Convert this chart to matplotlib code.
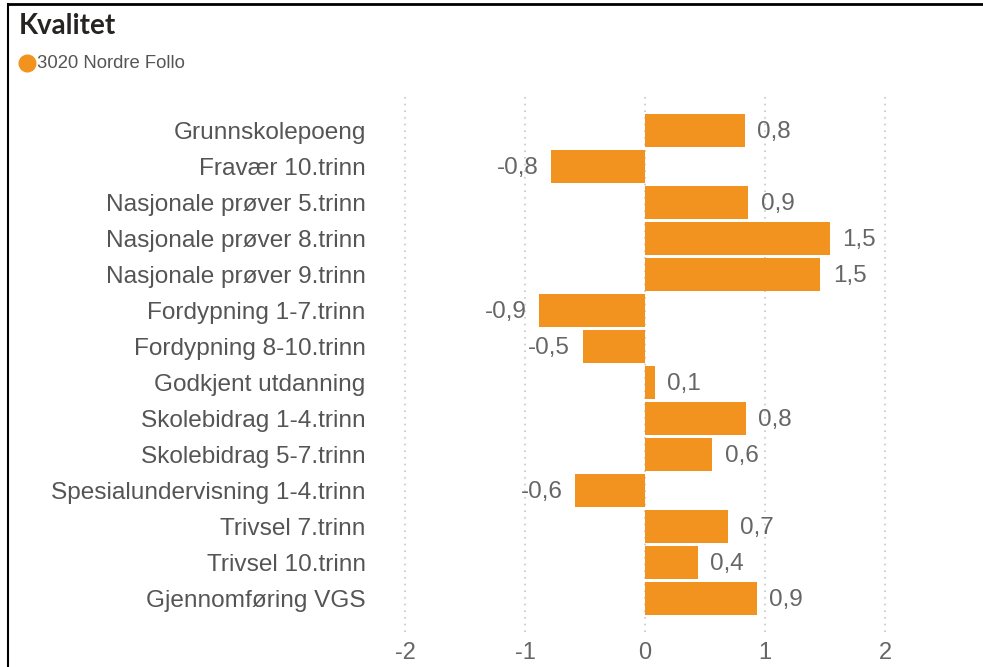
import matplotlib
matplotlib.use("Agg")
import matplotlib.pyplot as plt
from matplotlib.lines import Line2D

categories = ["Grunnskolepoeng", "Fravær 10.trinn", "Nasjonale prøver 5.trinn",
              "Nasjonale prøver 8.trinn", "Nasjonale prøver 9.trinn",
              "Fordypning 1-7.trinn", "Fordypning 8-10.trinn", "Godkjent utdanning",
              "Skolebidrag 1-4.trinn", "Skolebidrag 5-7.trinn",
              "Spesialundervisning 1-4.trinn", "Trivsel 7.trinn", "Trivsel 10.trinn",
              "Gjennomføring VGS"]
values = [0.83, -0.78, 0.86, 1.54, 1.46, -0.88, -0.52, 0.08, 0.84, 0.56,
          -0.58, 0.69, 0.44, 0.93]
xticks = [-2, -1, 0, 1, 2]
series_name = "3020 Nordre Follo"
title = "Kvalitet"

ORANGE = "#F2931F"
plt.rcParams['font.family'] = ['Liberation Sans', 'DejaVu Sans']

W, H = 983, 667
fig = plt.figure(figsize=(W / 100, H / 100), dpi=100)
ax = fig.add_axes([399 / W, 35 / H, 492 / W, 535 / H])

ypos = list(range(len(categories)))
ax.barh(ypos, values, height=0.92, color=ORANGE, zorder=3)

for y, v in zip(ypos, values):
    lab = f"{v:.1f}".replace(".", ",")
    if v >= 0:
        ax.annotate(lab, (v, y), xytext=(9, -1.5), textcoords="offset points",
                    ha="left", va="center", fontsize=17.5, color="#666666")
    else:
        ax.annotate(lab, (v, y), xytext=(-9, -1.5), textcoords="offset points",
                    ha="right", va="center", fontsize=17.5, color="#666666")

ax.set_xlim(-2.05, 2.05)
ax.set_ylim(len(categories) - 0.06, -0.92)
ax.set_xticks(xticks)
ax.set_xticklabels([str(t) for t in xticks])
ax.set_yticks(ypos)
ax.set_yticklabels(categories)
ax.tick_params(axis="y", length=0, pad=24, labelsize=17.6, labelcolor="#555555")
ax.tick_params(axis="x", length=0, pad=7, labelsize=17, labelcolor="#666666")
ax.grid(axis="x", color="#C8C8C8", linestyle=(0, (1, 3)), linewidth=1.2, zorder=0)
for s in ax.spines.values():
    s.set_visible(False)

fig.text(19 / W, 1 - 34 / H, title, fontsize=20, fontweight="bold",
         family=["Lato", "DejaVu Sans"], color="#252423", va="baseline")
fig.add_artist(Line2D([27 / W], [1 - 63 / H], marker="o", markersize=12,
                      color=ORANGE, linestyle="none"))
fig.text(37 / W, 1 - 63 / H, series_name, fontsize=13.3, color="#555555", va="center")

# panel border
fig.add_artist(Line2D([8 / W, 1], [1 - 4 / H, 1 - 4 / H], color="black", linewidth=2))
fig.add_artist(Line2D([8 / W, 8 / W], [0, 1 - 4 / H], color="black", linewidth=1.5))

fig.savefig("out.png", dpi=100)
